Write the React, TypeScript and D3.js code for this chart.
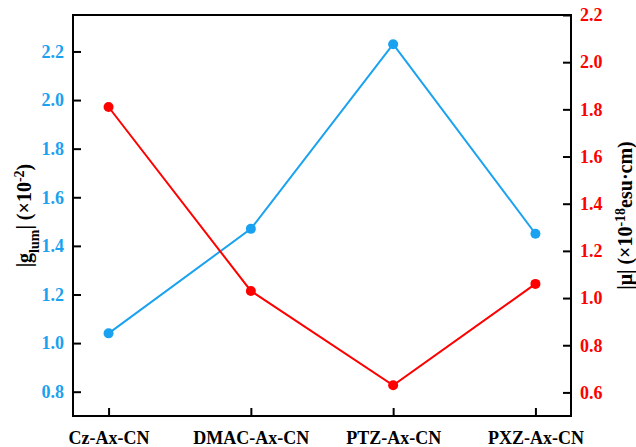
import React, { useEffect, useRef } from "react";
import * as d3 from "d3";

const categories = ["Cz-Ax-CN", "DMAC-Ax-CN", "PTZ-Ax-CN", "PXZ-Ax-CN"];
const glum = [1.04, 1.47, 2.23, 1.45];
const mu = [1.81, 1.03, 0.63, 1.06];
const leftTicks = [0.8, 1.0, 1.2, 1.4, 1.6, 1.8, 2.0, 2.2];
const rightTicks = [0.6, 0.8, 1.0, 1.2, 1.4, 1.6, 1.8, 2.0, 2.2];

const BLUE = "#1aa2f0";
const RED = "#ff0000";
const FONT = "'Liberation Serif', 'Times New Roman', serif";

export default function App() {
   const ref = useRef<SVGSVGElement>(null);

   useEffect(() => {
      const margin = { top: 15, right: 65, bottom: 31, left: 73 };
      const width = 636 - margin.left - margin.right;
      const height = 447 - margin.top - margin.bottom;

      const root = d3.select(ref.current);
      root.selectAll("*").remove();
      const svg = root
         .append("g")
         .attr("transform", "translate(" + margin.left + "," + margin.top + ")");

      const x = d3.scaleLinear().domain([-0.25, 3.25]).range([0, width]);
      const yL = d3.scaleLinear().domain([0.7, 2.35]).range([height, 0]);
      const yR = d3.scaleLinear().domain([0.5, 2.2]).range([height, 0]);

      const styleAxis = (g, color) => {
         g.select(".domain").remove();
         g.selectAll(".tick line").attr("stroke", "#000").attr("stroke-width", 2);
         g.selectAll(".tick text")
            .attr("fill", color)
            .style("font-family", FONT)
            .style("font-weight", "bold")
            .style("font-size", "18px");
      };

      // bottom axis
      svg.append("g")
         .attr("transform", "translate(0," + height + ")")
         .call(
            d3.axisBottom(x)
               .tickValues(categories.map((d, i) => i))
               .tickFormat((i) => categories[i as number])
               .tickSizeInner(-8)
               .tickPadding(15)
         )
         .call((g) => styleAxis(g, "#000"));

      svg.append("g")
         .call(d3.axisLeft(yL).tickValues(leftTicks).tickFormat(d3.format(".1f")).tickSizeInner(-8).tickPadding(9))
         .call((g) => styleAxis(g, BLUE));

      svg.append("g")
         .attr("transform", "translate(" + width + ",0)")
         .call(d3.axisRight(yR).tickValues(rightTicks).tickFormat(d3.format(".1f")).tickSizeInner(-8).tickPadding(9))
         .call((g) => styleAxis(g, RED));

      // frame
      svg.append("rect")
         .attr("width", width)
         .attr("height", height)
         .attr("fill", "none")
         .attr("stroke", "#000")
         .attr("stroke-width", 2);

      const drawSeries = (vals, y, color) => {
         const line = d3.line<number>().x((d, i) => x(i)).y((d) => y(d));
         svg.append("path")
            .datum(vals)
            .attr("d", line)
            .attr("fill", "none")
            .attr("stroke", color)
            .attr("stroke-width", 2);
         svg.selectAll(null)
            .data(vals)
            .enter()
            .append("circle")
            .attr("cx", (d, i) => x(i))
            .attr("cy", (d) => y(d))
            .attr("r", 5)
            .attr("fill", color);
      };
      drawSeries(glum, yL, BLUE);
      drawSeries(mu, yR, RED);

      // axis titles
      const lt = svg.append("text")
         .attr("transform", "translate(-42," + height / 2 + ") rotate(-90)")
         .attr("text-anchor", "middle")
         .style("font-family", FONT)
         .style("font-weight", "bold")
         .style("font-size", "20px")
         .attr("fill", "#000");
      lt.append("tspan").text("|g");
      lt.append("tspan").attr("baseline-shift", "sub").style("font-size", "14px").text("lum");
      lt.append("tspan").text("| (×10");
      lt.append("tspan").attr("baseline-shift", "super").style("font-size", "14px").text("-2");
      lt.append("tspan").text(")");

      const rt = svg.append("text")
         .attr("transform", "translate(" + (width + 61) + "," + height / 2 + ") rotate(-90)")
         .attr("text-anchor", "middle")
         .style("font-family", FONT)
         .style("font-weight", "bold")
         .style("font-size", "20px")
         .attr("fill", "#000");
      rt.append("tspan").text("|μ| (×10");
      rt.append("tspan").attr("baseline-shift", "super").style("font-size", "14px").text("-18");
      rt.append("tspan").text("esu·cm)");
   }, []);

   return (
      <svg
         ref={ref}
         width={636}
         height={447}
         style={{ position: "absolute", left: 0, top: 0, background: "#fff" }}
      />
   );
}
